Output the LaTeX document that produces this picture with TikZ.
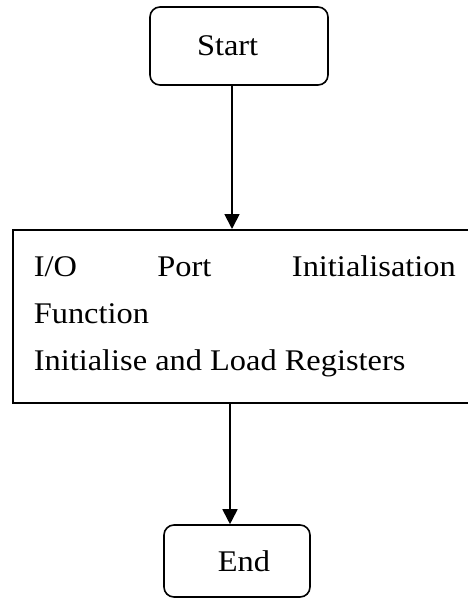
\documentclass[tikz,border=0pt]{standalone}
\usepackage{fontspec}
\setmainfont[FakeStretch=1.08]{Liberation Serif}
\usetikzlibrary{arrows.meta,positioning}

\tikzstyle{terminal} = [draw, line width=1.6pt, rounded corners=10pt]
\tikzstyle{process} = [draw, line width=1.6pt, anchor=north west, align=justify]
\tikzstyle{flow} = [draw, line width=1.8pt, -{Triangle[length=15pt,width=15pt]}]

\begin{document}
\begin{tikzpicture}[x=1pt, y=-1pt, every node/.style={font=\fontsize{30}{47}\selectfont}]

    % page frame
    \useasboundingbox (0,0) rectangle (467,598);

    % the terminals
    \node[terminal, minimum width=178pt, minimum height=78pt, text width=84pt, inner xsep=47pt, align=left] (start) at (239,46) {Start};
    \node[terminal, minimum width=146pt, minimum height=72pt, text width=66pt, inner xsep=40pt, align=right] (stop) at (237,561) {End};

    % the process box
    \node[process, text width=422pt, inner xsep=21pt, minimum height=173pt] (init) at (12,229)
      {I/O Port Initialisation\linebreak Function\\Initialise and Load Registers};

    % the flow between them
    \path[flow] ([xshift=-7pt]start.south) -- ([xshift=-7pt]start.south |- init.north);
    \path[flow] ([xshift=-7pt]stop.north |- init.south) -- ([xshift=-7pt]stop.north);
\end{tikzpicture}
\end{document}
